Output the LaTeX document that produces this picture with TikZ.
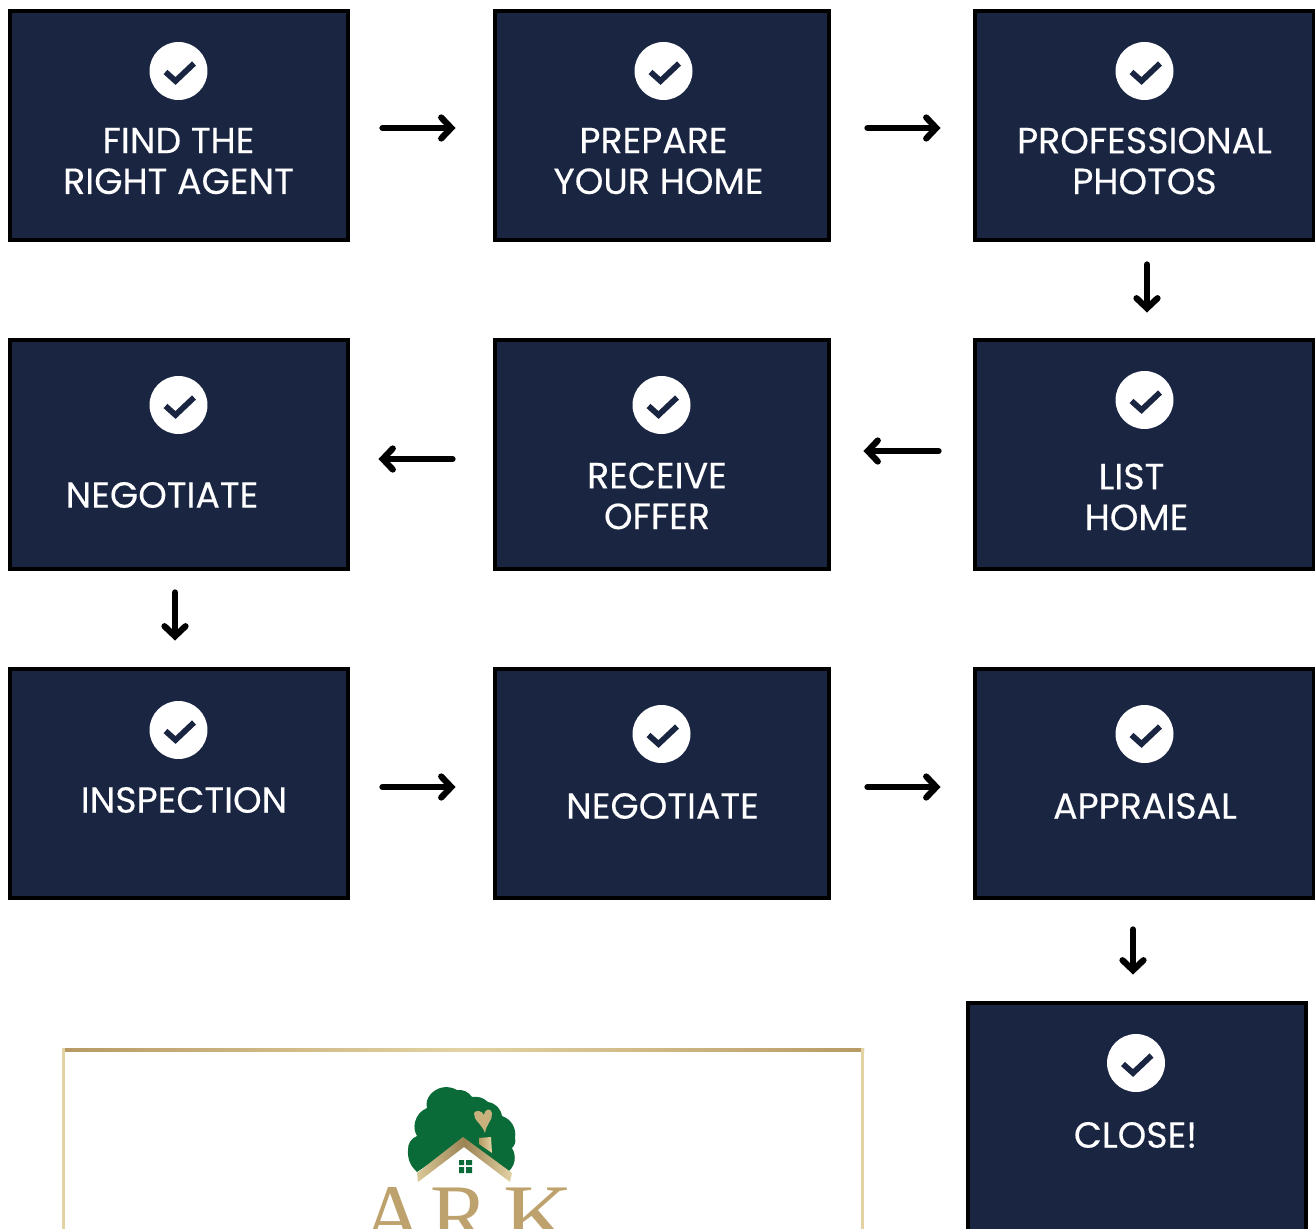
\documentclass[tikz,border=0pt]{standalone}
\usepackage{fontspec}
\setmainfont[FakeBold=0.25]{Poppins}
\newfontfamily\logofont{Liberation Serif}
\usetikzlibrary{arrows.meta}
\definecolor{navy}{HTML}{1A2542}
\definecolor{gold}{HTML}{B79A63}
\definecolor{palegold}{HTML}{E3D3A4}
\definecolor{treegreen}{HTML}{0B6B38}
\tikzset{
    stepbox/.style={draw=black,fill=navy,line width=0.08cm,minimum width=6.78cm,minimum height=4.6cm,inner sep=0pt},
    stepbox2/.style={stepbox,minimum width=6.7cm},
    steptext/.style={text=white,align=center,font=\fontsize{20.7pt}{23.2pt}\selectfont,inner sep=0pt},
    tickdisc/.style={circle,fill=white,minimum size=1.16cm,inner sep=0pt},
    flow/.style={line width=0.125cm,-{Straight Barb[length=0.2cm,width=0.42cm,line cap=round]},line cap=round},
    tick/.pic={\draw[navy,line width=0.115cm,line join=miter] (-13,1) -- (-3,10) -- (15.5,-7.5);}
}
\begin{document}
\begin{tikzpicture}[x=0.02cm,y=-0.02cm]
    \useasboundingbox (0,0) rectangle (1315,1229);
    % top row
    \node[stepbox] (find) at (179,125.5) {};
    \node[stepbox2] (prepare) at (662,125.5) {};
    \node[stepbox] (photos) at (1144.5,125.5) {};
    % middle row
    \node[stepbox] (nego1) at (179,454.5) {};
    \node[stepbox2] (offer) at (662,454.5) {};
    \node[stepbox] (list) at (1144.5,454.5) {};
    % bottom row
    \node[stepbox] (inspect) at (179,783.5) {};
    \node[stepbox2] (nego2) at (662,783.5) {};
    \node[stepbox] (appraisal) at (1144.5,783.5) {};
    \node[stepbox] (close) at (1137,1117.5) {};
    % discs
    \node[tickdisc] (d1) at (178.5,71) {};
    \node[tickdisc] (d2) at (663.5,71) {};
    \node[tickdisc] (d3) at (1144.5,71) {};
    \node[tickdisc] (d4) at (178.5,405) {};
    \node[tickdisc] (d5) at (661.5,405) {};
    \node[tickdisc] (d6) at (1144.5,400) {};
    \node[tickdisc] (d7) at (178.5,730) {};
    \node[tickdisc] (d8) at (661.5,734) {};
    \node[tickdisc] (d9) at (1144.5,734) {};
    \node[tickdisc] (d10) at (1136,1063) {};
    \pic at (d1) {tick};
    \pic at (d2) {tick};
    \pic at (d3) {tick};
    \pic at (d4) {tick};
    \pic at (d5) {tick};
    \pic at (d6) {tick};
    \pic at (d7) {tick};
    \pic at (d8) {tick};
    \pic at (d9) {tick};
    \pic at (d10) {tick};
    % labels
    \node[steptext] (findtxt) at (178.5,161) {FIND THE\\RIGHT AGENT};
    \node[steptext] (preparetxt) at (658.5,161) {PREPARE\hspace*{0.2cm}\\YOUR HOME};
    \node[steptext] (photostxt) at (1144.5,161) {PROFESSIONAL\\PHOTOS};
    \node[steptext] (nego1txt) at (162,495) {NEGOTIATE};
    \node[steptext] (offertxt) at (657,496) {RECEIVE\\OFFER};
    \node[steptext] (listtxt) at (1136.5,497) {LIST\hspace*{0.2cm}\\HOME};
    \node[steptext] (inspecttxt) at (184,800) {INSPECTION};
    \node[steptext] (nego2txt) at (662.5,806) {NEGOTIATE};
    \node[steptext] (appraisaltxt) at (1145,806) {APPRAISAL};
    \node[steptext] (closetxt) at (1135.5,1135) {CLOSE!};
    % arrows
    \draw[flow,shorten <=0.64cm,shorten >=0.74cm] ([yshift=-0.05cm]find.east) -- ([yshift=-0.05cm]prepare.west);
    \draw[flow,shorten <=0.72cm,shorten >=0.65cm] ([yshift=-0.05cm]prepare.east) -- ([yshift=-0.05cm]photos.west);
    \draw[flow,shorten <=0.44cm,shorten >=0.5cm] ([xshift=0.05cm]photos.south) -- ([xshift=0.05cm]list.north);
    \draw[flow,shorten <=0.69cm,shorten >=0.64cm] ([yshift=0.07cm]list.west) -- ([yshift=0.07cm]offer.east);
    \draw[flow,shorten <=0.8cm,shorten >=0.56cm] ([yshift=-0.09cm]offer.west) -- ([yshift=-0.09cm]nego1.east);
    \draw[flow,shorten <=0.42cm,shorten >=0.52cm] ([xshift=-0.08cm]nego1.south) -- ([xshift=-0.08cm]inspect.north);
    \draw[flow,shorten <=0.64cm,shorten >=0.74cm] ([yshift=-0.07cm]inspect.east) -- ([yshift=-0.07cm]nego2.west);
    \draw[flow,shorten <=0.72cm,shorten >=0.65cm] ([yshift=-0.07cm]nego2.east) -- ([yshift=-0.07cm]appraisal.west);
    \coordinate (closeup) at (close.north -| 1133,0);
    \draw[flow,shorten <=0.58cm,shorten >=0.52cm] (appraisal.south -| closeup) -- (closeup);
    % logo frame
    \shade[left color=gold,right color=gold,middle color=palegold] (62,1048) rectangle (864,1051);
    \fill[palegold] (62,1048) rectangle (65,1229);
    \fill[palegold] (861,1048) rectangle (864,1229);
    % logo tree and roof
    \fill[treegreen] (417,1172) to[bend left=25] (408,1150) to[bend left=35] (417,1136)
        to[bend left=20] (415,1122) to[bend left=25] (427,1108) to[bend left=25] (430,1095)
        to[bend left=40] (457,1090) to[bend left=30] (472,1097) to[bend left=25] (488,1102)
        to[bend left=35] (502,1116) to[bend left=40] (515,1138) to[bend left=30] (512,1148)
        to[bend left=40] (508,1172) -- (464,1140) -- cycle;
    \shade[left color=palegold!80!gold,right color=palegold,middle color=gold!85!black] (417,1173) -- (463,1137) -- (512,1173) -- (510,1182) -- (464,1147) -- (418,1182) -- cycle;
    \shade[left color=gold,right color=palegold] (479,1138) -- (491,1137) -- (492,1153) -- (479,1144) -- cycle;
    \fill[gold!60!palegold] (485,1133) .. controls (482,1124) and (473,1120) .. (474,1113)
        .. controls (475,1110) and (482,1110) .. (484,1115)
        .. controls (485,1108) and (491,1108) .. (492,1113)
        .. controls (493,1120) and (486,1124) .. (485,1133) -- cycle;
    \fill[treegreen] (459,1160) rectangle (464,1165) (466,1160) rectangle (472,1165)
        (459,1167) rectangle (464,1173) (466,1167) rectangle (472,1173);
    \begin{scope}
        \clip (0,1000) rectangle (1315,1229);
        \node[text=gold!85!palegold,inner sep=0pt,anchor=north,font=\logofont\fontsize{50pt}{50pt}\selectfont] (arktxt) at (467,1187) {A\hspace{0.13cm}R\hspace{0.27cm}\scalebox{1.1}[1]{K}};
    \end{scope}
\end{tikzpicture}
\end{document}
